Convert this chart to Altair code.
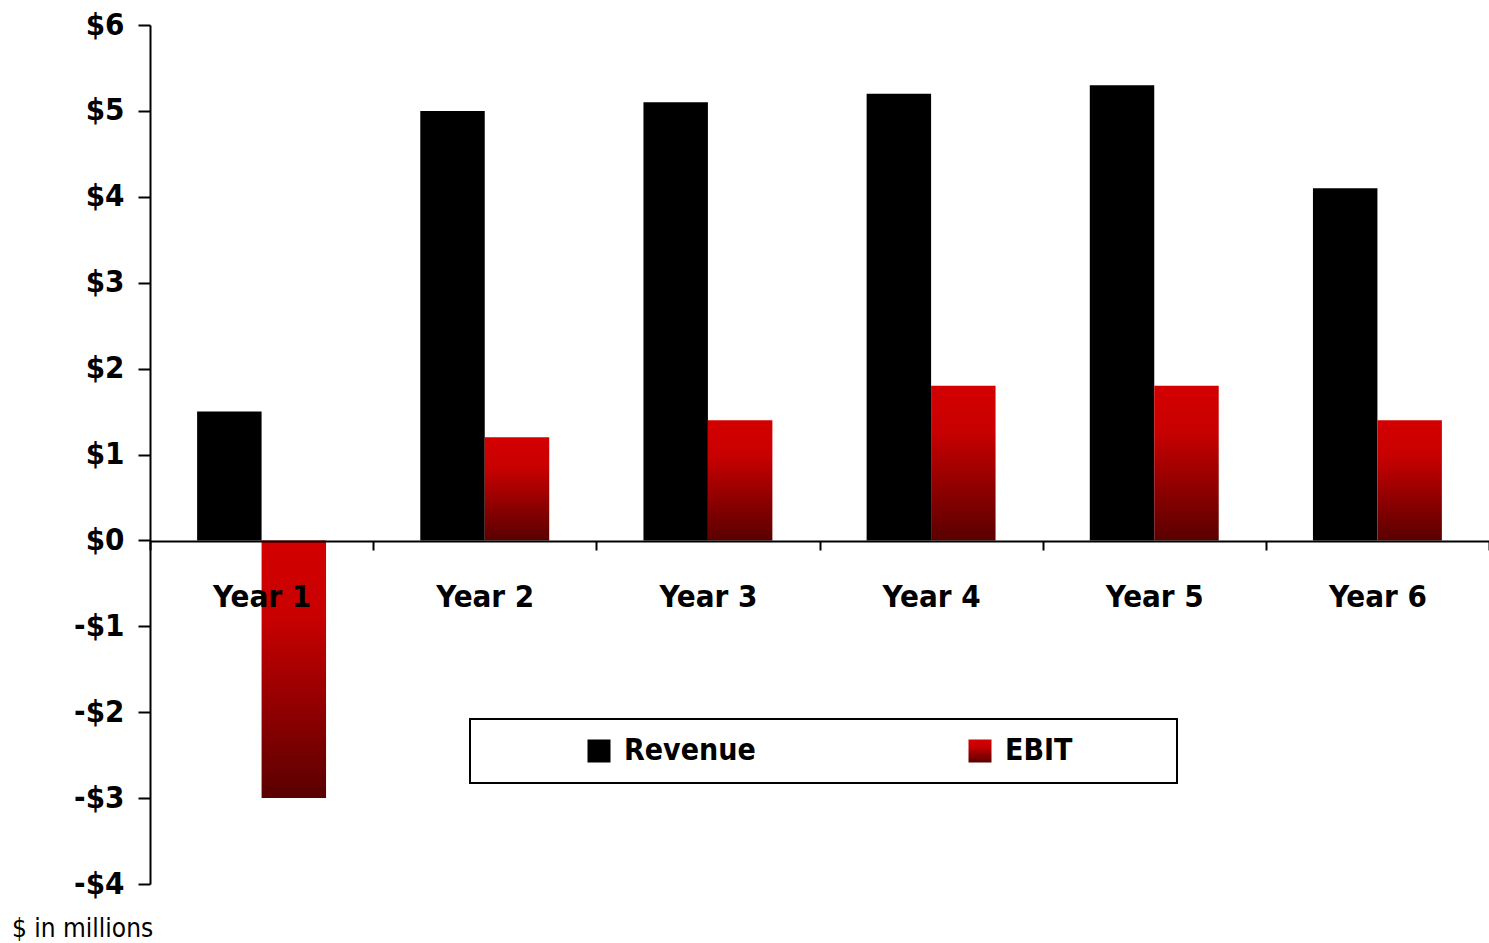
import altair as alt
import pandas as pd

years = ["Year 1", "Year 2", "Year 3", "Year 4", "Year 5", "Year 6"]
revenue = [1.5, 5.0, 5.1, 5.2, 5.3, 4.1]
ebit = [-3.0, 1.2, 1.4, 1.8, 1.8, 1.4]
series = ["Revenue", "EBIT"]

rows = []
for y, r, e in zip(years, revenue, ebit):
    rows.append({"year": y, "series": "Revenue", "value": r})
    rows.append({"year": y, "series": "EBIT", "value": e})
df = pd.DataFrame(rows)

FONT = "'Liberation Sans Narrow', 'Arial Narrow', 'DejaVu Sans Condensed', sans-serif"

grad = alt.ExprRef(
    "{gradient: 'linear', x1: 0, y1: 0, x2: 0, y2: 1, stops: ["
    "{offset: 0, color: '#d40000'}, {offset: 0.3, color: '#c80000'}, {offset: 1, color: '#5a0000'}]}"
)

chart = (
    alt.Chart(df)
    .mark_bar()
    .encode(
        x=alt.X(
            "year:N",
            sort=years,
            scale=alt.Scale(paddingInner=0, paddingOuter=0),
            axis=alt.Axis(
                title=None,
                labelAngle=0,
                offset=-343,
                tickBand="extent",
                tickSize=9,
                tickColor="black",
                tickWidth=2,
                domainColor="black",
                domainWidth=2,
                labelFont=FONT,
                labelFontSize=31,
                labelFontWeight="bold",
                labelColor="black",
                labelPadding=32,
                zindex=1,
            ),
        ),
        xOffset=alt.XOffset(
            "series:N",
            sort=series,
            scale=alt.Scale(domain=series, paddingInner=0, paddingOuter=0.731),
        ),
        y=alt.Y(
            "value:Q",
            scale=alt.Scale(domain=[-4, 6], nice=False, zero=False),
            axis=alt.Axis(
                title=None,
                values=[-4, -3, -2, -1, 0, 1, 2, 3, 4, 5, 6],
                labelExpr="datum.value < 0 ? '-$' + abs(datum.value) : '$' + datum.value",
                grid=False,
                tickSize=12,
                tickColor="black",
                tickWidth=2,
                domainColor="black",
                domainWidth=2,
                labelFont=FONT,
                labelFontSize=31,
                labelFontWeight="bold",
                labelColor="black",
                labelPadding=14,
                zindex=1,
            ),
        ),
        color=alt.Color(
            "series:N",
            sort=series,
            scale=alt.Scale(domain=series, range=["#000000", grad]),
            legend=alt.Legend(
                title=" ",
                titleOrient="right",
                titlePadding=88,
                titleFontSize=30,
                orient="none",
                legendX=320,
                legendY=694,
                direction="horizontal",
                columns=2,
                columnPadding=112,
                symbolType="square",
                symbolSize=529,
                symbolStrokeWidth=0,
                symbolOpacity=1,
                symbolOffset=97,
                labelOffset=10,
                labelFont=FONT,
                labelFontSize=30,
                labelFontWeight="bold",
                labelColor="black",
                fillColor="white",
                strokeColor="black",
                padding=17,
            ),
        ),
    )
    .properties(
        width=1339,
        height=859,
        autosize=alt.AutoSizeParams(type="none"),
        padding={"left": 150, "top": 25, "right": 0, "bottom": 59},
        title=alt.TitleParams(
            text="$ in millions",
            orient="bottom",
            anchor="start",
            frame="group",
            dx=-138,
            offset=17,
            font=FONT,
            fontSize=26,
            fontWeight="normal",
            color="black",
        ),
    )
    .configure_view(stroke=None)
    .configure_legend(strokeWidth=2)
)

chart.save("out.html", embed_options={"renderer": "svg", "actions": False})
